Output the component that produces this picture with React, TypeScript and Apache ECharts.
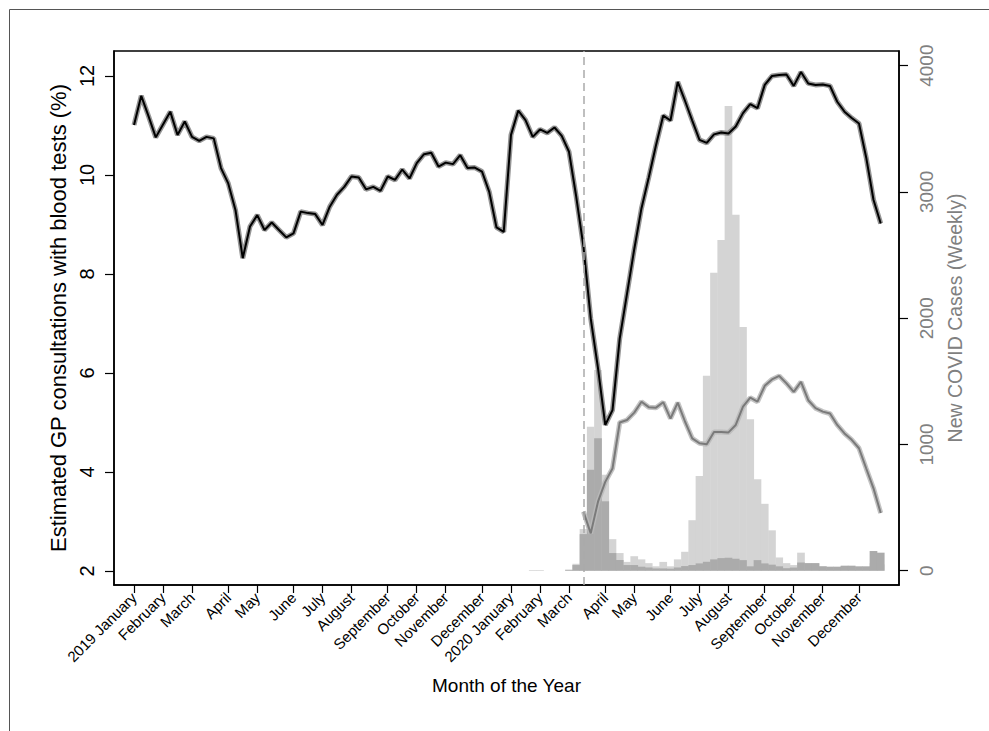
import React, { useEffect, useRef } from "react";
import * as echarts from "echarts";

// Week index 0 = first week of January 2019; 104 weekly points
const monthTickWeeks = [0, 4, 8, 13, 17, 22, 26, 30, 35, 39, 43, 48, 52, 56, 60, 65, 69, 74, 78, 82, 87, 91, 95, 100];
const monthLabels = [
  "2019 January", "February", "March", "April", "May", "June", "July", "August", "September", "October", "November", "December",
  "2020 January", "February", "March", "April", "May", "June", "July", "August", "September", "October", "November", "December",
];

// Estimated GP consultations with blood tests (%) - black line
const bloodTests = [
  11.01, 11.6, 11.19, 10.76, 11.02, 11.28, 10.81, 11.08, 10.77, 10.69,
  10.77, 10.74, 10.14, 9.83, 9.29, 8.32, 8.96, 9.19, 8.89, 9.04,
  8.89, 8.74, 8.82, 9.26, 9.23, 9.21, 8.99, 9.36, 9.6, 9.76,
  9.97, 9.95, 9.71, 9.76, 9.68, 9.97, 9.9, 10.11, 9.93, 10.24,
  10.42, 10.45, 10.17, 10.25, 10.22, 10.4, 10.14, 10.15, 10.07, 9.66,
  8.94, 8.85, 10.81, 11.3, 11.11, 10.77, 10.92, 10.85, 10.96, 10.79,
  10.47, 9.56, 8.55, 7.1, 6.1, 4.95, 5.25, 6.7, 7.6, 8.5,
  9.33, 9.95, 10.6, 11.2, 11.1, 11.88, 11.5, 11.1, 10.71, 10.65,
  10.82, 10.86, 10.84, 10.98, 11.25, 11.43, 11.35, 11.82, 12.0, 12.02,
  12.03, 11.8, 12.08, 11.85, 11.82, 11.83, 11.8, 11.48, 11.28, 11.15,
  11.04, 10.35, 9.5, 9.02,
];

// Grey line (starts at week 62)
const secondStartWeek = 62;
const secondLine = [
  3.2, 2.76, 3.4, 3.8, 4.07, 5.0, 5.05, 5.2, 5.42, 5.31,
  5.3, 5.41, 5.08, 5.4, 5.02, 4.68, 4.58, 4.56, 4.81, 4.81,
  4.8, 4.95, 5.32, 5.5, 5.42, 5.74, 5.87, 5.94, 5.79, 5.62,
  5.82, 5.45, 5.29, 5.22, 5.18, 4.95, 4.78, 4.65, 4.48, 4.07,
  3.67, 3.17,
];

// New COVID cases (weekly), starting at week 55
const casesStartWeek = 55;
const casesLight = [
  6, 6, 0, 0, 0, 10, 55, 330, 1140, 1590,
  760, 250, 140, 70, 115, 90, 60, 35, 70, 35,
  90, 150, 400, 750, 1545, 2360, 2620, 3680, 2820, 1930,
  1200, 725, 530, 320, 105, 60, 45, 143, 60, 60,
  35, 30, 30, 35, 30, 30, 30, 60, 50,
];
const casesDark = [
  0, 0, 0, 0, 0, 5, 45, 290, 800, 1050,
  550, 140, 85, 45, 45, 32, 26, 18, 18, 16,
  26, 37, 45, 58, 71, 90, 100, 103, 95, 84,
  35, 84, 58, 48, 35, 20, 25, 65, 60, 60,
  35, 32, 32, 40, 40, 35, 35, 156, 143,
];

const leftTicks = [2, 4, 6, 8, 10, 12];
const rightTicks = [0, 1000, 2000, 3000, 4000];
const lockdownWeek = 62;

const FONT = "Liberation Sans, Arial, Helvetica, sans-serif";

export default function App() {
  const ref = useRef<HTMLDivElement>(null);
  useEffect(() => {
    if (!ref.current) return;
    const chart = echarts.init(ref.current, undefined, { renderer: "svg" });
    const blackData = bloodTests.map((v, i) => [i, v]);
    const greyData = secondLine.map((v, k) => [secondStartWeek + k, v]);
    const lightData = casesLight.map((v, k) => [casesStartWeek + k, v]);
    const darkData = casesDark.map((v, k) => [casesStartWeek + k, v]);

    chart.setOption({
      animation: false,
      backgroundColor: "#fff",
      textStyle: { fontFamily: FONT },
      graphic: [
        {
          type: "rect",
          shape: { x: 9.5, y: 9.5, width: 1100, height: 900 },
          style: { fill: "none", stroke: "#555", lineWidth: 1 },
          silent: true,
        },
      ],
      grid: {
        left: 114,
        right: 90,
        top: 51,
        bottom: 146,
        show: true,
        borderColor: "#000",
        borderWidth: 1.5,
        containLabel: false,
      },
      xAxis: {
        type: "value",
        min: -2.76,
        max: 105.52,
        name: "Month of the Year",
        nameLocation: "middle",
        nameGap: 91,
        nameTextStyle: { fontSize: 19, color: "#000", fontFamily: FONT },
        splitLine: { show: false },
        axisLine: { show: true, onZero: false, lineStyle: { color: "#000", width: 1.5 } },
        axisTick: { show: true, customValues: monthTickWeeks, length: 8, lineStyle: { color: "#000", width: 1.2 } },
        axisLabel: {
          customValues: monthTickWeeks,
          formatter: (v: number) => monthLabels[monthTickWeeks.indexOf(v)] ?? "",
          rotate: 45,
          fontSize: 15,
          margin: 10,
          color: "#000",
          fontFamily: FONT,
        },
      },
      yAxis: [
        {
          type: "value",
          min: 1.717,
          max: 12.505,
          position: "left",
          name: "Estimated GP consultations with blood tests (%)",
          nameLocation: "middle",
          nameGap: 37,
          nameTextStyle: { fontSize: 22, color: "#000", fontFamily: FONT },
          splitLine: { show: false },
          axisLine: { show: true, onZero: false, lineStyle: { color: "#000", width: 1.5 } },
          axisTick: { show: true, customValues: leftTicks, length: 9, lineStyle: { color: "#000", width: 1.2 } },
          axisLabel: {
            customValues: leftTicks,
            formatter: (v: number) => String(v),
            rotate: 90,
            fontSize: 20,
            margin: 17,
            color: "#000",
            fontFamily: FONT,
          },
        },
        {
          type: "value",
          min: -113,
          max: 4116,
          position: "right",
          name: "New COVID Cases (Weekly)",
          nameLocation: "middle",
          nameGap: 46,
          nameTextStyle: { fontSize: 19.5, color: "#808080", fontFamily: FONT },
          splitLine: { show: false },
          axisLine: { show: true, onZero: false, lineStyle: { color: "#000", width: 1.5 } },
          axisTick: { show: true, customValues: rightTicks, length: 9, lineStyle: { color: "#000", width: 1.2 } },
          axisLabel: {
            customValues: rightTicks,
            formatter: (v: number) => String(v),
            rotate: 90,
            fontSize: 19,
            margin: 18,
            color: "#808080",
            fontFamily: FONT,
          },
        },
      ],
      series: [
        {
          type: "bar",
          yAxisIndex: 1,
          data: lightData,
          barWidth: 7.7,
          barGap: "-100%",
          itemStyle: { color: "#d4d4d4" },
          z: 1,
          silent: true,
        },
        {
          type: "bar",
          yAxisIndex: 1,
          data: darkData,
          barWidth: 7.7,
          barGap: "-100%",
          itemStyle: { color: "#ababab" },
          z: 1,
          silent: true,
        },
        {
          type: "line",
          data: blackData,
          symbol: "none",
          lineStyle: { color: "rgba(130,130,130,0.85)", width: 5 },
          z: 3,
          silent: true,
        },
        {
          type: "line",
          data: blackData,
          symbol: "none",
          lineStyle: { color: "#000", width: 2 },
          z: 4,
          silent: true,
          markLine: {
            silent: true,
            symbol: "none",
            label: { show: false },
            lineStyle: { color: "#aaa", type: [8, 5], width: 1.5 },
            data: [{ xAxis: lockdownWeek }],
          },
        },
        {
          type: "line",
          data: greyData,
          symbol: "none",
          lineStyle: { color: "rgba(185,185,185,0.85)", width: 5 },
          z: 3,
          silent: true,
        },
        {
          type: "line",
          data: greyData,
          symbol: "none",
          lineStyle: { color: "#7a7a7a", width: 2 },
          z: 4,
          silent: true,
        },
      ],
    });
    return () => chart.dispose();
  }, []);
  return (
    <div
      ref={ref}
      style={{ position: "fixed", left: 0, top: 0, width: 989, height: 731, background: "#fff" }}
    />
  );
}
